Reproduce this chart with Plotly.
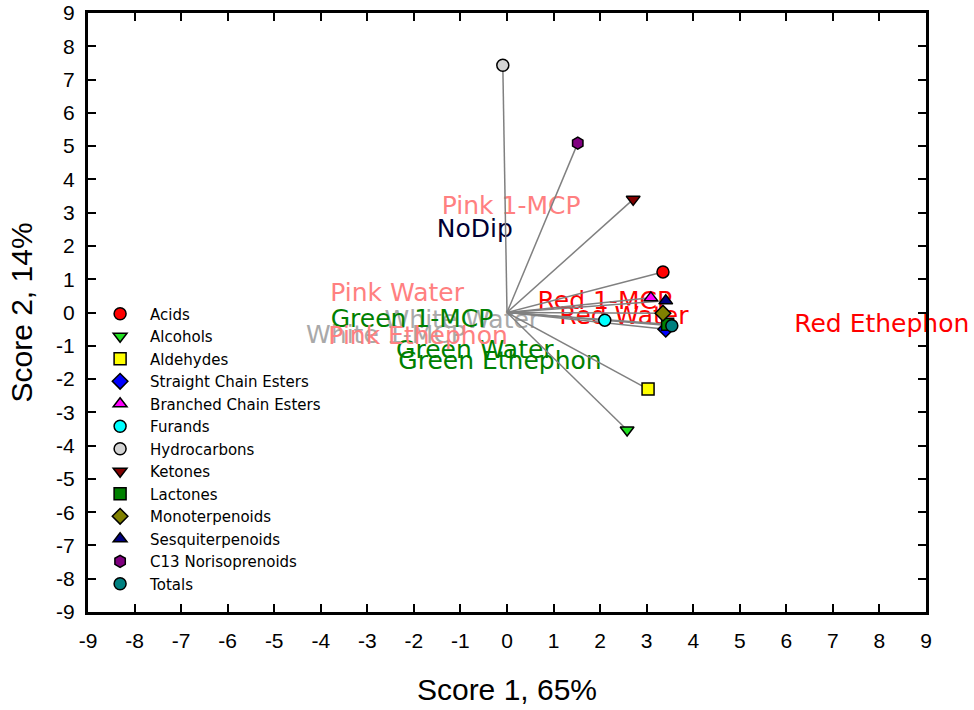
import plotly.graph_objects as go

# ---- loadings (compound classes) ----
categories = ["Acids", "Alcohols", "Aldehydes", "Straight Chain Esters",
              "Branched Chain Esters", "Furands", "Hydrocarbons", "Ketones",
              "Lactones", "Monoterpenoids", "Sesquiterpenoids",
              "C13 Norisoprenoids", "Totals"]
score1 = [3.35, 2.58, 3.03, 3.41, 3.09, 2.10, -0.09, 2.71, 3.45, 3.35, 3.41, 1.52, 3.54]
score2 = [1.22, -3.53, -2.30, -0.50, 0.44, -0.23, 7.43, 3.40, -0.35, -0.02, 0.35, 5.09, -0.40]
colors = ["#FF0000", "#22E022", "#FFFF00", "#0000FF", "#FF00FF", "#00FFFF",
          "#D3D3D3", "#800000", "#008000", "#808000", "#000080", "#800080", "#008080"]
symbols = ["circle", "triangle-down", "square", "diamond", "triangle-up", "circle",
           "circle", "triangle-down", "square", "diamond", "triangle-up",
           "hexagon", "circle"]

# ---- scores (treatments) ----
treatments = ["White 1-MCP", "White Water", "Green 1-MCP", "Green Water",
              "Green Ethephon", "Pink 1-MCP", "Pink Water", "Pink Ethephon",
              "Red 1-MCP", "Red Water", "Red Ethephon", "NoDip"]
t_score1 = [-2.60, -0.97, -2.04, -0.69, -0.15, 0.09, -2.36, -1.91, 2.10, 2.51, 8.05, -0.69]
t_score2 = [-0.74, -0.29, -0.26, -1.19, -1.52, 3.14, 0.53, -0.77, 0.29, -0.17, -0.41, 2.45]
t_colors = ["#A9A9A9", "#A9A9A9", "#008000", "#008000", "#008000", "#FF8080",
            "#FF8080", "#FF8080", "#FF0000", "#FF0000", "#FF0000", "#000033"]

ticks = list(range(-9, 10))

fig = go.Figure()

# treatment labels
fig.add_trace(go.Scatter(
    x=t_score1, y=t_score2, mode="text", text=treatments,
    textposition="middle center",
    textfont=dict(family="DejaVu Sans", size=25, color=t_colors),
    showlegend=False, cliponaxis=False, hoverinfo="skip"))

# vectors from origin
lx, ly = [], []
for a, b in zip(score1, score2):
    lx += [0, a, None]
    ly += [0, b, None]
fig.add_trace(go.Scatter(x=lx, y=ly, mode="lines",
                         line=dict(color="#808080", width=1.5),
                         showlegend=False, hoverinfo="skip"))

# markers
for name, a, b, c, s in zip(categories, score1, score2, colors, symbols):
    fig.add_trace(go.Scatter(
        x=[a], y=[b], mode="markers", name=name,
        marker=dict(color=c, symbol=s, size=12,
                    line=dict(color="black", width=1.5))))

axis_common = dict(
    tickmode="array", tickvals=ticks, ticktext=[str(t) for t in ticks],
    ticks="inside", ticklen=8, tickwidth=2, tickcolor="black",
    showline=True, linewidth=3, linecolor="black", mirror="ticks",
    showgrid=False, zeroline=False, automargin=False,
    tickfont=dict(family="Liberation Sans, Arial", size=21, color="black"),
)

fig.update_xaxes(range=[-9, 9], title=dict(text="Score 1, 65%", standoff=28,
                 font=dict(family="Liberation Sans, Arial", size=30, color="black")),
                 ticklabelstandoff=8, **axis_common)
fig.update_yaxes(range=[-9, 9], title=dict(text="Score 2, 14%", standoff=15,
                 font=dict(family="Liberation Sans, Arial", size=30, color="black")),
                 ticklabelstandoff=6, **axis_common)

fig.update_layout(
    width=974, height=710,
    margin=dict(l=88, r=48, t=12.5, b=97.5, autoexpand=False),
    paper_bgcolor="white", plot_bgcolor="white",
    legend=dict(x=0.0025, y=0.525, xanchor="left", yanchor="top",
                bgcolor="rgba(0,0,0,0)", itemwidth=50,
                font=dict(family="DejaVu Sans", size=15, color="black"),
                tracegroupgap=0),
)

fig.write_html("out.html", config={"displayModeBar": False},
               post_script="document.body.style.margin='0';")
